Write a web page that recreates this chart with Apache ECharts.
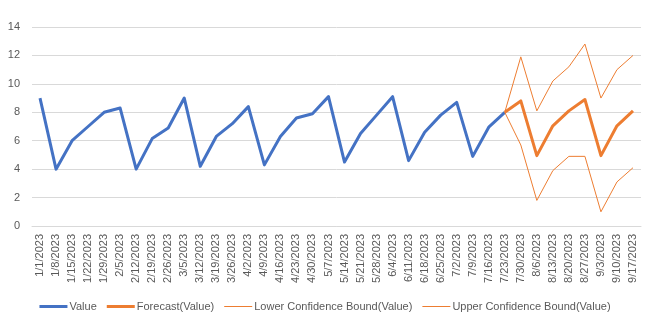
<!DOCTYPE html>
<html>
<head>
<meta charset="utf-8">
<script src="https://cdn.jsdelivr.net/npm/echarts@6/dist/echarts.min.js"></script>
<style>html,body{margin:0;padding:0;background:#fff}#c{width:650px;height:322px}</style>
</head>
<body>
<div id="c"></div>
<script>
var categories = ['1/1/2023','1/8/2023','1/15/2023','1/22/2023','1/29/2023','2/5/2023','2/12/2023','2/19/2023','2/26/2023','3/5/2023','3/12/2023','3/19/2023','3/26/2023','4/2/2023','4/9/2023','4/16/2023','4/23/2023','4/30/2023','5/7/2023','5/14/2023','5/21/2023','5/28/2023','6/4/2023','6/11/2023','6/18/2023','6/25/2023','7/2/2023','7/9/2023','7/16/2023','7/23/2023','7/30/2023','8/6/2023','8/13/2023','8/20/2023','8/27/2023','9/3/2023','9/10/2023','9/17/2023'];
var values = [9.0,4.0,6.0,7.0,8.0,8.3,4.0,6.15,6.9,9.0,4.2,6.3,7.2,8.4,4.3,6.3,7.6,7.9,9.1,4.5,6.5,7.8,9.1,4.6,6.6,7.8,8.7,4.9,6.95,8.0];
var forecast = [8.0,8.8,4.95,7.05,8.1,8.9,4.95,7.05,8.1];
var lowerBound = [8.0,5.7,1.8,3.9,4.9,4.9,1.0,3.1,4.1];
var upperBound = [8.0,11.9,8.1,10.2,11.2,12.8,9.0,11.0,12.0];
var forecastStart = 29;
var yTicks = {min:0, max:14, interval:2};

function pad(arr, start){
  var out = [];
  for (var i=0;i<categories.length;i++){
    var j = i - start;
    out.push(j>=0 && j<arr.length ? arr[j] : '-');
  }
  return out;
}
var blue = '#4472C4', orange = '#ED7D31', txt = '#595959', grid = '#D9D9D9';
var chart = echarts.init(document.getElementById('c'));
chart.setOption({
  animation:false,
  textStyle:{fontFamily:'Liberation Sans'},
  grid:{left:32,right:9,top:27,bottom:96,containLabel:false},
  legend:{
    bottom:5, left:'center', itemWidth:28, itemHeight:12, itemGap:10,
    textStyle:{color:txt,fontSize:11,fontFamily:'Liberation Sans',padding:[0,0,0,-3]},
    data:[
      {name:'Value',icon:'path://M0 0H28V3H0Z'},
      {name:'Forecast(Value)',icon:'path://M0 0H28V3H0Z'},
      {name:'Lower Confidence Bound(Value)',icon:'path://M0 0H28V1H0Z'},
      {name:'Upper Confidence Bound(Value)',icon:'path://M0 0H28V1H0Z'}
    ]
  },
  xAxis:{
    type:'category', data:categories, boundaryGap:true,
    axisLine:{show:true,lineStyle:{color:grid,width:1}},
    axisTick:{show:false},
    axisLabel:{rotate:90,interval:0,color:txt,fontSize:11,margin:8}
  },
  yAxis:{
    type:'value', min:yTicks.min, max:yTicks.max, interval:yTicks.interval,
    axisLine:{show:false}, axisTick:{show:false},
    axisLabel:{color:txt,fontSize:11,margin:12},
    splitLine:{lineStyle:{color:grid,width:1}}
  },
  series:[
    {name:'Value',type:'line',data:pad(values,0),symbol:'none',itemStyle:{color:blue},lineStyle:{color:blue,width:3,join:'round'}},
    {name:'Forecast(Value)',type:'line',data:pad(forecast,forecastStart),symbol:'none',itemStyle:{color:orange},lineStyle:{color:orange,width:3,join:'round'}},
    {name:'Lower Confidence Bound(Value)',type:'line',data:pad(lowerBound,forecastStart),symbol:'none',itemStyle:{color:orange},lineStyle:{color:orange,width:1}},
    {name:'Upper Confidence Bound(Value)',type:'line',data:pad(upperBound,forecastStart),symbol:'none',itemStyle:{color:orange},lineStyle:{color:orange,width:1}}
  ]
});
</script>
</body>
</html>
